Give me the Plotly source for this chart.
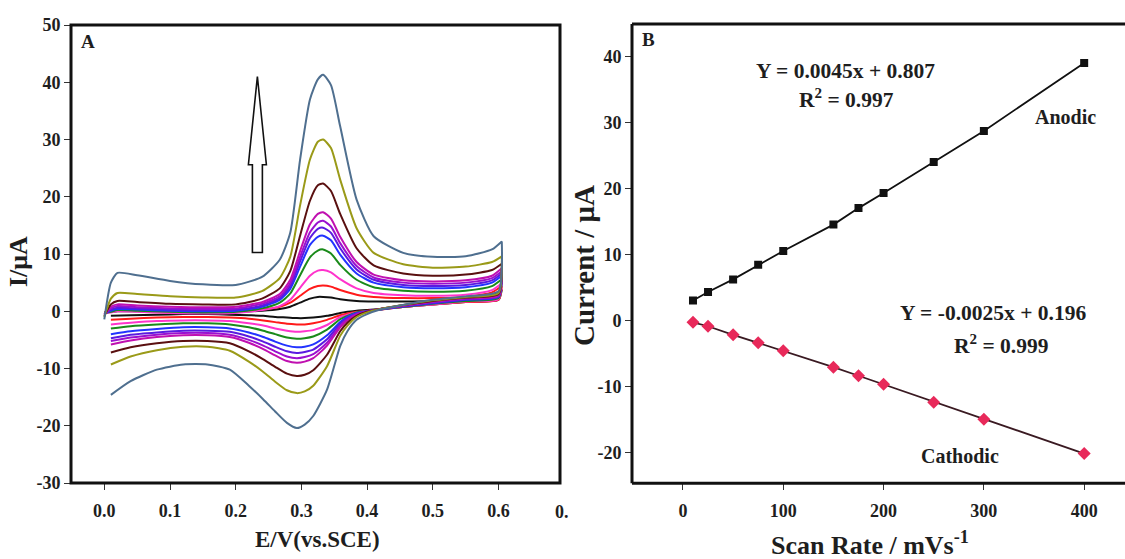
import plotly.graph_objects as go

# ---------------- Panel A: cyclic voltammograms ----------------
# Potential grids (V vs SCE) for the anodic (forward) and cathodic (reverse) sweeps
E_fwd = [0.0, 0.01, 0.02, 0.05, 0.10, 0.15, 0.20, 0.24, 0.267, 0.283, 0.298, 0.313,
         0.325, 0.333, 0.345, 0.359, 0.384, 0.41, 0.455, 0.50, 0.55, 0.59, 0.605]
E_rev = [0.605, 0.60, 0.55, 0.50, 0.45, 0.42, 0.40, 0.384, 0.37, 0.359, 0.339, 0.318,
         0.305, 0.293, 0.278, 0.26, 0.242, 0.22, 0.191, 0.157, 0.12, 0.08, 0.04, 0.01]

# Currents (uA) for each scan rate, forward sweep
I_fwd_400 = [-1.4, 5.0, 6.7, 6.3, 5.3, 4.7, 4.6, 6.0, 9.0, 13.7, 26.5, 37.0, 40.5, 41.3, 39.5, 32.3, 19.5, 13.1, 10.2, 9.5, 9.6, 10.8, 12.2]
I_fwd_300 = [-1.0, 2.2, 3.2, 3.0, 2.6, 2.4, 2.4, 3.5, 5.8, 9.5, 18.5, 26.5, 29.6, 30.0, 28.5, 23.0, 14.5, 10.2, 8.2, 7.6, 7.8, 8.6, 9.6]
I_fwd_250 = [-0.8, 1.2, 1.8, 1.6, 1.3, 1.2, 1.2, 2.2, 4.0, 7.0, 13.2, 19.3, 22.0, 22.3, 21.0, 17.0, 11.0, 8.0, 6.6, 6.2, 6.4, 7.2, 8.3]
I_fwd_200 = [-0.6, 0.8, 1.2, 1.0, 0.8, 0.7, 0.8, 1.6, 3.0, 5.5, 10.5, 15.2, 17.0, 17.3, 16.2, 13.0, 8.6, 6.4, 5.4, 5.2, 5.4, 6.2, 7.5]
I_fwd_175 = [-0.6, 0.5, 0.9, 0.7, 0.5, 0.4, 0.5, 1.3, 2.6, 4.9, 9.5, 13.8, 15.5, 15.8, 14.8, 11.9, 7.9, 5.9, 5.0, 4.8, 5.0, 5.8, 7.0]
I_fwd_150 = [-0.5, 0.3, 0.6, 0.5, 0.3, 0.2, 0.3, 1.0, 2.3, 4.4, 8.7, 12.8, 14.4, 14.6, 13.7, 11.0, 7.3, 5.5, 4.6, 4.4, 4.6, 5.4, 6.6]
I_fwd_100 = [-0.4, 0.1, 0.4, 0.3, 0.1, 0.0, 0.1, 0.8, 2.0, 3.9, 7.8, 11.6, 13.0, 13.2, 12.4, 9.9, 6.6, 5.0, 4.2, 4.0, 4.2, 5.0, 6.2]
I_fwd_75 = [-0.3, -0.1, 0.2, 0.1, -0.1, -0.2, -0.1, 0.5, 1.5, 3.1, 6.3, 9.4, 10.6, 10.8, 10.1, 8.1, 5.5, 4.2, 3.6, 3.4, 3.6, 4.4, 5.6]
I_fwd_50 = [-0.3, -0.2, 0.0, -0.1, -0.3, -0.4, -0.3, 0.2, 0.9, 2.0, 4.1, 6.2, 7.1, 7.2, 6.8, 5.6, 4.0, 3.2, 2.8, 2.7, 2.9, 3.7, 4.9]
I_fwd_25 = [-0.2, 0.1, 0.3, 0.2, 0.1, 0.0, 0.0, 0.3, 0.8, 1.5, 2.7, 3.9, 4.4, 4.5, 4.3, 3.7, 2.9, 2.5, 2.3, 2.3, 2.5, 3.3, 4.4]
I_fwd_10 = [-0.2, -0.1, 0.0, 0.0, -0.1, -0.1, -0.1, 0.1, 0.4, 0.8, 1.5, 2.2, 2.5, 2.5, 2.4, 2.1, 1.8, 1.7, 1.7, 1.8, 2.1, 2.8, 3.8]

# Currents (uA) for each scan rate, reverse sweep
I_rev_400 = [12.2, 3.5, 2.6, 2.0, 1.0, 0.3, -0.5, -1.5, -3.5, -6.1, -13.7, -18.3, -19.8, -20.4, -19.5, -17.5, -15.4, -13.0, -10.2, -9.3, -9.3, -10.2, -12.2, -14.6]
I_rev_300 = [9.6, 3.2, 2.5, 1.9, 1.0, 0.4, -0.2, -1.0, -2.5, -4.3, -9.6, -13.0, -14.0, -14.3, -13.8, -12.3, -10.6, -8.8, -6.9, -6.2, -6.2, -6.8, -7.9, -9.3]
I_rev_250 = [8.3, 3.0, 2.4, 1.8, 1.0, 0.4, -0.1, -0.8, -2.0, -3.5, -7.6, -10.3, -11.1, -11.3, -10.9, -9.7, -8.4, -7.0, -5.6, -5.2, -5.2, -5.6, -6.3, -7.2]
I_rev_200 = [7.5, 2.8, 2.3, 1.7, 0.9, 0.4, -0.1, -0.6, -1.6, -2.8, -6.0, -8.2, -8.8, -9.0, -8.7, -7.7, -6.6, -5.5, -4.5, -4.2, -4.2, -4.5, -5.1, -5.8]
I_rev_175 = [7.0, 2.7, 2.2, 1.6, 0.9, 0.4, -0.1, -0.5, -1.4, -2.5, -5.5, -7.5, -8.0, -8.2, -7.9, -7.0, -6.0, -5.0, -4.1, -3.8, -3.8, -4.1, -4.6, -5.2]
I_rev_150 = [6.6, 2.6, 2.1, 1.5, 0.8, 0.4, 0.0, -0.4, -1.2, -2.2, -4.9, -6.7, -7.1, -7.3, -7.0, -6.2, -5.3, -4.4, -3.6, -3.4, -3.4, -3.7, -4.1, -4.7]
I_rev_100 = [6.2, 2.5, 2.0, 1.4, 0.8, 0.3, 0.0, -0.3, -1.0, -1.9, -4.2, -5.8, -6.2, -6.3, -6.0, -5.3, -4.5, -3.7, -3.0, -2.8, -2.8, -3.1, -3.5, -4.0]
I_rev_75 = [5.6, 2.3, 1.8, 1.3, 0.7, 0.3, 0.0, -0.2, -0.8, -1.4, -3.2, -4.4, -4.7, -4.8, -4.6, -4.0, -3.4, -2.8, -2.3, -2.1, -2.1, -2.3, -2.6, -3.0]
I_rev_50 = [4.9, 2.1, 1.7, 1.2, 0.7, 0.3, 0.0, -0.2, -0.6, -1.0, -2.4, -3.3, -3.5, -3.6, -3.4, -3.0, -2.5, -2.1, -1.7, -1.6, -1.6, -1.7, -2.0, -2.3]
I_rev_25 = [4.4, 2.0, 1.6, 1.2, 0.7, 0.3, 0.1, -0.1, -0.4, -0.7, -1.5, -2.1, -2.3, -2.3, -2.2, -1.9, -1.6, -1.3, -1.1, -1.0, -1.0, -1.1, -1.3, -1.5]
I_rev_10 = [3.8, 2.0, 1.6, 1.2, 0.7, 0.4, 0.2, 0.1, -0.1, -0.3, -0.8, -1.1, -1.2, -1.2, -1.1, -1.0, -0.8, -0.7, -0.6, -0.5, -0.5, -0.6, -0.7, -0.8]

cv_curves = [
    (I_fwd_10, I_rev_10, "#111111"),
    (I_fwd_25, I_rev_25, "#ff1a1a"),
    (I_fwd_50, I_rev_50, "#ff33cc"),
    (I_fwd_75, I_rev_75, "#1a8a1a"),
    (I_fwd_100, I_rev_100, "#2233ff"),
    (I_fwd_150, I_rev_150, "#5a1ae0"),
    (I_fwd_175, I_rev_175, "#9a10d0"),
    (I_fwd_200, I_rev_200, "#c010b0"),
    (I_fwd_250, I_rev_250, "#5a1010"),
    (I_fwd_300, I_rev_300, "#9a9a18"),
    (I_fwd_400, I_rev_400, "#4f6f8f"),
]

A_xticks = [0.0, 0.1, 0.2, 0.3, 0.4, 0.5, 0.6]
A_xticktext = ["0.0", "0.1", "0.2", "0.3", "0.4", "0.5", "0.6"]
A_yticks = [50, 40, 30, 20, 10, 0, -10, -20, -30]
A_yticktext = ["50", "40", "30", "20", "10", "0", "-10", "-20", "-30"]

# ---------------- Panel B: peak current vs scan rate ----------------
scan_rate = [10, 25, 50, 75, 100, 150, 175, 200, 250, 300, 400]
i_anodic = [3.0, 4.3, 6.2, 8.4, 10.5, 14.5, 17.0, 19.3, 24.0, 28.7, 39.0]
i_cathodic = [-0.3, -0.9, -2.2, -3.4, -4.6, -7.1, -8.4, -9.7, -12.4, -15.0, -20.2]

B_xticks = [0, 100, 200, 300, 400]
B_yticks = [40, 30, 20, 10, 0, -10, -20]
B_yticktext = ["40", "30", "20", "10", "0", "-10", "-20"]

W, H = 1125, 559
SERIF = "Liberation Serif"
INK = "#1e1e1e"


def px(x):
    return x / W


def py(y):
    return 1 - y / H


fig = go.Figure()

for fwd, rev, col in cv_curves:
    fig.add_trace(go.Scatter(
        x=E_fwd + E_rev, y=fwd + rev, mode="lines",
        line=dict(color=col, width=2.0, shape="spline", smoothing=0.6),
        xaxis="x", yaxis="y", showlegend=False, hoverinfo="skip"))

fig.add_trace(go.Scatter(
    x=scan_rate, y=i_anodic, mode="lines+markers",
    line=dict(color="#111111", width=1.8),
    marker=dict(symbol="square", size=8, color="#111111"),
    xaxis="x2", yaxis="y2", showlegend=False))
fig.add_trace(go.Scatter(
    x=scan_rate, y=i_cathodic, mode="lines+markers",
    line=dict(color="#3a1a22", width=1.8),
    marker=dict(symbol="diamond", size=10, color="#e8295a"),
    xaxis="x2", yaxis="y2", showlegend=False))

tickfont = dict(family=SERIF, size=18, color=INK, weight="bold")

common = dict(showgrid=False, zeroline=False, ticks="outside", ticklen=6,
              tickwidth=1.3, tickcolor="#333333", tickfont=tickfont,
              automargin=False, showline=False)

fig.update_layout(
    width=W, height=H,
    margin=dict(l=0, r=0, t=0, b=0),
    paper_bgcolor="white", plot_bgcolor="white",
    xaxis=dict(domain=[px(71), px(560)], range=[-0.0507, 0.6936], ticklabelstandoff=5,
               tickvals=A_xticks, ticktext=A_xticktext, anchor="y", **common),
    yaxis=dict(domain=[py(483), py(25)], range=[-30, 50],
               tickvals=A_yticks, ticktext=A_yticktext, anchor="x", **common),
    xaxis2=dict(domain=[px(632), 1.0], range=[-50.8, 440.7], ticklabelstandoff=5,
                tickvals=B_xticks, anchor="y2", **common),
    yaxis2=dict(domain=[py(483.3), py(24)], range=[-24.7, 44.9],
                tickvals=B_yticks, ticktext=B_yticktext, anchor="x2", **common),
)

# frames
frame = dict(color="#111111", width=3)
fig.add_shape(type="rect", xref="paper", yref="paper", layer="above",
              x0=px(71), x1=px(560), y0=py(483), y1=py(25), line=frame)
for (x0, y0, x1, y1) in [(632, 24, 632, 483.3), (632, 24, 1125, 24), (632, 483.3, 1125, 483.3)]:
    fig.add_shape(type="line", xref="paper", yref="paper", layer="above",
                  x0=px(x0), y0=py(y0), x1=px(x1), y1=py(y1), line=frame)

# hollow arrow showing increasing scan rate
ax, hw, sw = 0.233, 0.0137, 0.0076
tip, base, tail = 41.0, 25.6, 10.25
arrow_path = (f"M {ax - sw} {tail} L {ax - sw} {base} L {ax - hw} {base} L {ax} {tip} "
              f"L {ax + hw} {base} L {ax + sw} {base} L {ax + sw} {tail} Z")
fig.add_shape(type="path", xref="x", yref="y", path=arrow_path,
              line=dict(color="#111111", width=1.6), fillcolor="white")


def label(text, x, y, size, angle=0, xanchor="center"):
    fig.add_annotation(text=text, x=px(x), y=py(y), xref="paper", yref="paper",
                       showarrow=False, textangle=angle, xanchor=xanchor, yanchor="middle",
                       font=dict(family=SERIF, size=size, color=INK, weight="bold"))


# last x tick of panel A, partly hidden behind panel B
label("0.", 553, 512, 18, xanchor="left")

label("A", 88, 41, 19)
label("B", 648, 39, 19)
label("E/V(vs.SCE)", 317, 539, 23)
label("I/μA", 18, 262, 26, angle=-90)
label("Current / μA", 584, 266, 29, angle=-90)
label("Scan Rate / mVs<sup>-1</sup>", 870, 543, 26)
label("Y = 0.0045x + 0.807", 845, 71, 21.5)
label("R<sup>2</sup> = 0.997", 846, 99, 21.5)
label("Anodic", 1065, 117, 20)
label("Y = -0.0025x + 0.196", 993, 313, 21.5)
label("R<sup>2</sup> = 0.999", 1001, 344, 21.5)
label("Cathodic", 960, 456, 20)

fig.write_html("out.html")
